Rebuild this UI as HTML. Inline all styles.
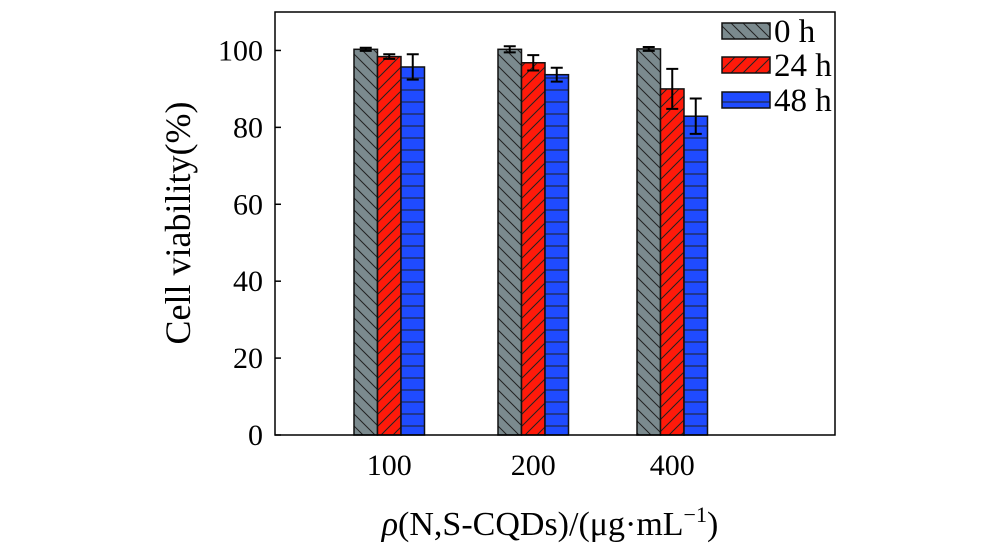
<!DOCTYPE html>
<html><head><meta charset="utf-8"><style>
body{margin:0;background:#fff}
svg text{font-family:"Liberation Serif",serif;fill:#000}
</style></head><body>
<svg id="chart" width="1000" height="553" xmlns="http://www.w3.org/2000/svg">
<defs>
<pattern id="pGray" patternUnits="userSpaceOnUse" width="12" height="12"><rect width="12" height="12" fill="#7b8a8e"/><path d="M-3,-3 L15,15 M-3,9 L3,15 M9,-3 L15,3" stroke="#222" stroke-width="1"/></pattern>
<pattern id="pRed" patternUnits="userSpaceOnUse" width="12" height="12"><rect width="12" height="12" fill="#ff1a0a"/><path d="M-3,15 L15,-3 M-3,3 L3,-3 M9,15 L15,9" stroke="#222" stroke-width="1"/></pattern>
<pattern id="pBlue" patternUnits="userSpaceOnUse" width="12" height="12"><rect width="12" height="12" fill="#1f4bff"/><path d="M0,6 L12,6" stroke="#222" stroke-width="1"/></pattern>
</defs>
<g id="plot"></g>
<text transform="translate(190,223) rotate(-90)" text-anchor="middle" font-size="36">Cell viability(%)</text>
<text x="550" y="535" text-anchor="middle" font-size="34"><tspan font-style="italic">ρ</tspan>(N,S-CQDs)/(μg·mL<tspan font-size="22" dy="-13">−1</tspan><tspan dy="13">)</tspan></text>
</svg>
<script>
const categories=["100","200","400"];
const seriesNames=["0 h","24 h","48 h"];
const val0h=[100.3,100.3,100.4];
const val24h=[98.4,96.8,90.0];
const val48h=[95.7,93.7,82.9];
const err0h=[0.4,0.8,0.5];
const err24h=[0.6,2.0,5.2];
const err48h=[3.3,1.8,4.6];
const yTicks=[0,20,40,60,80,100];

const NS="http://www.w3.org/2000/svg";
const g=document.getElementById("plot");
const L=275,R=835,T=12,B=435,ymax=110;
const y=v=>B-(v/ymax)*(B-T);
const groupStart=[354,498,637];
const bw=23.5;
function mk(tag,attrs,parent){const e=document.createElementNS(NS,tag);for(const k in attrs)e.setAttribute(k,attrs[k]);(parent||g).appendChild(e);return e;}
const fills=["url(#pGray)","url(#pRed)","url(#pBlue)"];
const vals=[val0h,val24h,val48h],errs=[err0h,err24h,err48h];
categories.forEach((c,i)=>{
  vals.forEach((arr,s)=>{
    const x=groupStart[i]+s*bw;
    const r=mk("rect",{x:x,y:y(arr[i]),width:bw,height:B-y(arr[i]),fill:fills[s],stroke:"#111","stroke-width":1.5});
    
    
    const cx=x+bw/2,e=errs[s][i];
    const eb=mk("path",{d:`M${cx},${y(arr[i]+e)}V${y(arr[i]-e)}M${cx-6},${y(arr[i]+e)}h12M${cx-6},${y(arr[i]-e)}h12`,stroke:"#000","stroke-width":2,fill:"none"});
    
    
  });
  const t=mk("text",{x:groupStart[i]+bw*1.5,y:B+40,"text-anchor":"middle","font-size":"30"});
  t.textContent=c;
  
  
});
const frame=mk("rect",{x:L,y:T,width:R-L,height:B-T,fill:"none",stroke:"#000","stroke-width":1.5});


yTicks.forEach(v=>{
  const tk=mk("line",{x1:L,x2:L+6,y1:y(v),y2:y(v),stroke:"#000","stroke-width":1.5});
  
  
  const t=mk("text",{x:L-12,y:y(v)+10,"text-anchor":"end","font-size":"30"});
  t.textContent=v;
  
  
});
const legY=[23,57,92];
seriesNames.forEach((n,s)=>{
  const r=mk("rect",{x:722,y:legY[s],width:48,height:16,fill:fills[s],stroke:"#111","stroke-width":1.5});
  
  
  const t=mk("text",{x:774,y:legY[s]+19,"font-size":"33"});
  t.textContent=n;
  
  
});
</script>
</body></html>
